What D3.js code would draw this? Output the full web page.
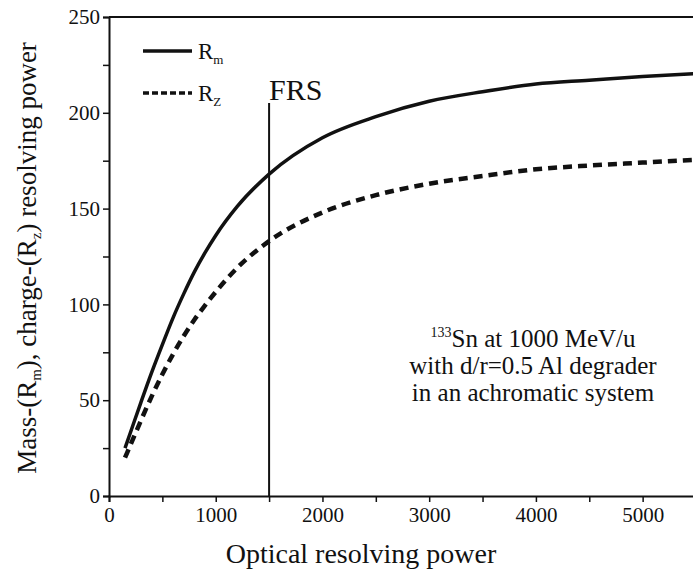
<!DOCTYPE html>
<html>
<head>
<meta charset="utf-8">
<script src="https://cdn.jsdelivr.net/npm/d3@7"></script>
</head>
<body style="margin:0">
<script>
// optical resolving power (x) and the two resolving powers
var power = [150, 200, 300, 400, 500, 600, 700, 800, 900, 1000, 1200, 1500,
             2000, 2500, 3000, 3500, 4000, 4500, 5000, 5500];
var massR = [25, 33, 49, 64.5, 79, 93, 105.5, 117, 127, 136, 151, 168,
             187, 198, 206, 211, 215, 217, 219, 220.5];
var chargeR = [20, 26.5, 39.5, 52, 63.5, 74, 83.5, 92, 99.5, 106.5, 119, 133,
               148, 157, 163, 167, 170.5, 172.5, 174, 175.5];

var xTicks = [0, 500, 1000, 1500, 2000, 2500, 3000, 3500, 4000, 4500, 5000, 5500];
var yTicks = [0, 25, 50, 75, 100, 125, 150, 175, 200, 225, 250];
var frsPower = 1500;

var W = 693, H = 574;
var serif = "'Liberation Serif'";

var svg = d3.select("body")
    .append("svg")
    .attr("width", W)
    .attr("height", H)
    .style("font-family", serif);

var x = d3.scaleLinear().domain([0, 5500]).range([109, 696]);
var y = d3.scaleLinear().domain([0, 250]).range([496, 17]);

// top frame line
svg.append("line")
    .attr("x1", x(0)).attr("x2", W)
    .attr("y1", y(250)).attr("y2", y(250))
    .style("stroke", "#111").style("stroke-width", 2);

// axes
var xAxis = d3.axisBottom(x)
    .tickValues(xTicks)
    .tickSize(6)
    .tickPadding(5)
    .tickFormat(function(d) { return d % 1000 == 0 ? d : ""; });

var yAxis = d3.axisLeft(y)
    .tickValues(yTicks)
    .tickSize(6)
    .tickPadding(3)
    .tickFormat(function(d) { return d % 50 == 0 ? d : ""; });

var gx = svg.append("g")
    .attr("transform", "translate(0," + y(0) + ")")
    .call(xAxis);
var gy = svg.append("g")
    .attr("transform", "translate(" + x(0) + ",0)")
    .call(yAxis);

[gx, gy].forEach(function(g) {
    g.attr("font-family", null).attr("font-size", null);
    g.select(".domain").style("stroke", "#111").style("stroke-width", 2);
    g.selectAll(".tick line").style("stroke", "#111").style("stroke-width", 1.5);
    g.selectAll(".tick text")
        .style("font-family", serif)
        .style("font-size", "21px")
        .style("fill", "#111");
});

// the curves
var line = d3.line()
    .x(function(d) { return x(d[0]); })
    .y(function(d) { return y(d[1]); })
    .curve(d3.curveMonotoneX);

svg.append("path")
    .datum(d3.zip(power, massR))
    .attr("d", line)
    .style("fill", "none")
    .style("stroke", "#111")
    .style("stroke-width", 3.5);

svg.append("path")
    .datum(d3.zip(power, chargeR))
    .attr("d", line)
    .style("fill", "none")
    .style("stroke", "#111")
    .style("stroke-width", 4.5)
    .style("stroke-dasharray", "9,6");

// FRS marker
svg.append("line")
    .attr("x1", x(frsPower)).attr("x2", x(frsPower))
    .attr("y1", 103).attr("y2", y(0))
    .style("stroke", "#111").style("stroke-width", 2);

svg.append("text")
    .attr("x", x(frsPower)).attr("y", 100)
    .style("font-family", serif)
    .style("font-size", "30px")
    .style("fill", "#111")
    .text("FRS");

// legend
var legend = [
    { sub: "m", dash: null, y: 51 },
    { sub: "Z", dash: "6,3", y: 93 }
];
var lg = svg.selectAll("g.legend")
    .data(legend)
    .enter()
    .append("g")
    .attr("class", "legend");

lg.append("line")
    .attr("x1", 143).attr("x2", 192)
    .attr("y1", function(d) { return d.y; })
    .attr("y2", function(d) { return d.y; })
    .style("stroke", "#111")
    .style("stroke-width", 3.5)
    .style("stroke-dasharray", function(d) { return d.dash; });

var lt = lg.append("text")
    .attr("x", 198)
    .attr("y", function(d) { return d.y + 8; })
    .style("font-family", serif)
    .style("font-size", "23px")
    .style("fill", "#111")
    .text("R");
lt.append("tspan")
    .attr("dy", 5)
    .style("font-size", "13px")
    .text(function(d) { return d.sub; });

// annotation
var note = svg.append("text")
    .attr("text-anchor", "middle")
    .style("font-family", serif)
    .style("font-size", "25px")
    .style("fill", "#111");
var l1 = note.append("tspan").attr("x", 533).attr("y", 347);
l1.append("tspan").attr("dy", -10).style("font-size", "14px").text("133");
l1.append("tspan").attr("dy", 10).text("Sn at 1000 MeV/u");
note.append("tspan").attr("x", 533).attr("y", 374).text("with d/r=0.5 Al degrader");
note.append("tspan").attr("x", 533).attr("y", 401).text("in an achromatic system");

// axis titles
svg.append("text")
    .attr("x", 361)
    .attr("y", 563)
    .attr("text-anchor", "middle")
    .style("font-family", serif)
    .style("font-size", "28px")
    .style("fill", "#111")
    .text("Optical resolving power");

var yt = svg.append("text")
    .attr("transform", "translate(36,258) rotate(-90)")
    .attr("text-anchor", "middle")
    .style("font-family", serif)
    .style("font-size", "27px")
    .style("fill", "#111");
yt.append("tspan").text("Mass-(R");
yt.append("tspan").attr("dy", 5).style("font-size", "15px").text("m");
yt.append("tspan").attr("dy", -5).text("), charge-(R");
yt.append("tspan").attr("dy", 5).style("font-size", "15px").text("z");
yt.append("tspan").attr("dy", -5).text(") resolving power");
</script>
</body>
</html>
